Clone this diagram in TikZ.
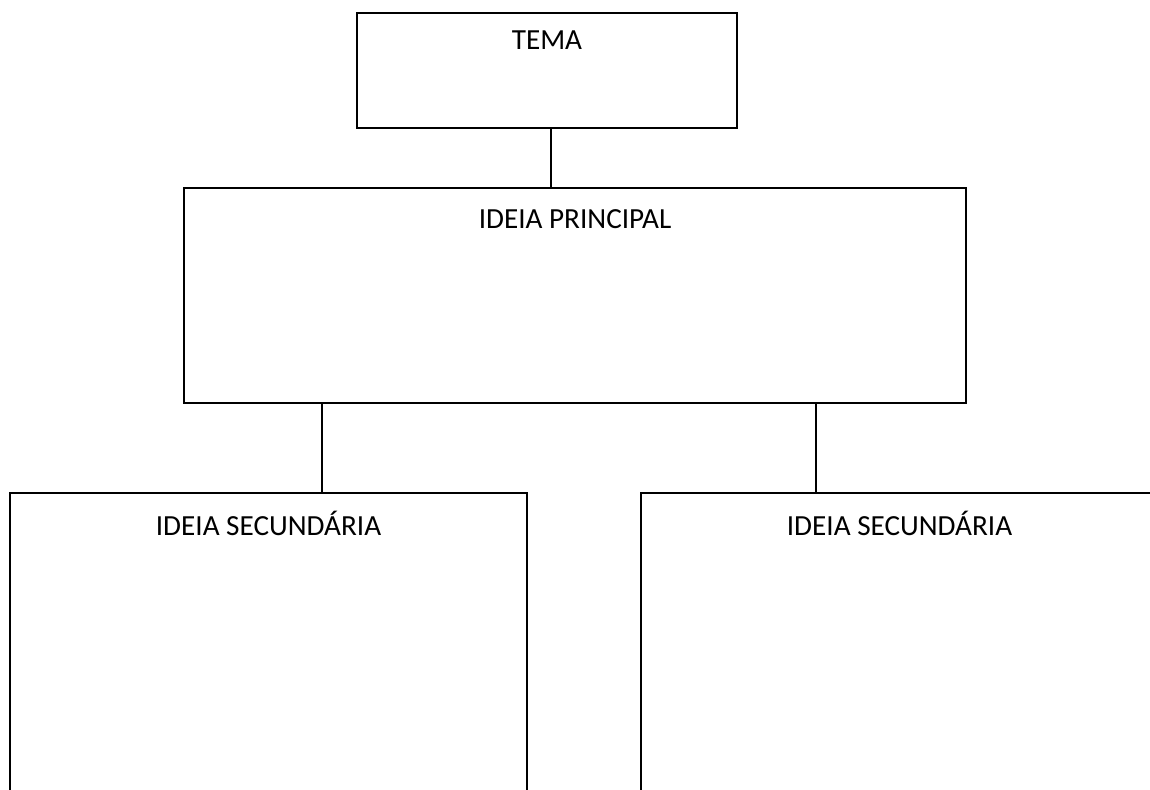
\documentclass[tikz,border=0pt]{standalone}
\usepackage{fontspec}
\setmainfont{Carlito}
\usetikzlibrary{positioning,calc}

\begin{document}
\begin{tikzpicture}[
    caixa/.style={draw, line width=1.1pt, rectangle, inner sep=0pt},
    titulo/.style={anchor=center, font=\fontsize{16.6}{19}\selectfont}
]
                \useasboundingbox (0,0) rectangle (23,15.8);
                \clip (0,0) rectangle (23,15.8);
                \node[caixa, minimum width=7.6cm, minimum height=2.3cm,
                      label={[titulo, yshift=-0.56cm]north:TEMA}] (tema) at (10.94,14.39) {};
                \node[caixa, minimum width=15.64cm, minimum height=4.3cm,
                      label={[titulo, yshift=-0.64cm]north:IDEIA PRINCIPAL}] (ideia) at (11.5,9.89) {};
                \node[caixa, anchor=north, minimum width=10.34cm, minimum height=8cm,
                      label={[titulo, yshift=-0.62cm]north:IDEIA SECUNDÁRIA}] (sec1) at (5.37,5.96) {};
                \node[caixa, anchor=north, minimum width=10.34cm, minimum height=8cm,
                      label={[titulo, yshift=-0.62cm]north:IDEIA SECUNDÁRIA}] (sec2) at (17.99,5.96) {};
                \draw[line width=1.1pt] ([xshift=0.08cm]tema.south) -- ([xshift=0.08cm]tema.south |- ideia.north);
                \draw[line width=1.1pt] ([xshift=1.07cm]sec1.north) -- ([xshift=1.07cm]sec1.north |- ideia.south);
                \draw[line width=1.1pt] ([xshift=-1.67cm]sec2.north) -- ([xshift=-1.67cm]sec2.north |- ideia.south);
\end{tikzpicture}
\end{document}
